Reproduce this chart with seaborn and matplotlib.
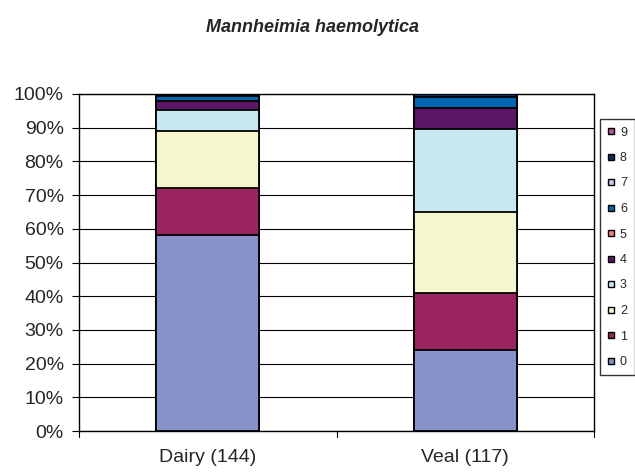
import numpy as np
import pandas as pd
import matplotlib
matplotlib.use('Agg')
import matplotlib.pyplot as plt
from matplotlib.lines import Line2D
import seaborn as sns

# percentage of isolates per class (0-9)
categories = ['Dairy (144)', 'Veal (117)']
classes = ['0', '1', '2', '3', '4', '5', '6', '7', '8', '9']
dairy = [58.3, 13.9, 16.7, 6.3, 2.8, 0.0, 1.3, 0.0, 0.7, 0.0]
veal = [23.9, 17.1, 23.9, 24.8, 6.0, 0.0, 3.4, 0.0, 0.9, 0.0]
colors = ['#8891C8', '#992460', '#F6F6CE', '#C7E8F1', '#5B1765',
          '#F08274', '#0066B2', '#C9C9E9', '#0A2F5E', '#B5559A']

sns.set_style('white')
plt.rcParams['font.family'] = ['Liberation Sans', 'DejaVu Sans']

df = pd.DataFrame({'category': categories})
vals = np.array([dairy, veal])
cum = np.cumsum(vals, axis=1)

fig = plt.figure(figsize=(6.35, 4.73), dpi=100)
ax = fig.add_axes([79 / 635, 1 - 431 / 473, (594 - 79) / 635, (431 - 94) / 473])

# draw cumulative totals from the top class down so each one covers the next
for i in range(len(classes) - 1, -1, -1):
    df['cum'] = cum[:, i]
    sns.barplot(data=df, x='category', y='cum', color=colors[i], width=0.4,
                saturation=1, edgecolor='black', linewidth=1.3, ax=ax,
                zorder=3)

ax.set_xlim(-0.5, 1.5)
ax.set_ylim(0, 100)
ax.set_yticks(np.arange(0, 101, 10))
ax.set_yticklabels([f'{v}%' for v in range(0, 101, 10)], fontsize=14)
ax.yaxis.grid(True, color='black', linewidth=0.8, zorder=0)
ax.set_axisbelow(True)
ax.set_xlabel('')
ax.set_ylabel('')
ax.tick_params(axis='x', length=0, labelsize=14, pad=13)
ax.tick_params(axis='y', left=True, length=5, width=0.8, color='black', pad=6)
for s in ax.spines.values():
    s.set_color('black')
    s.set_linewidth(1.0)
# category boundary ticks on the x axis
for xb in [-0.5, 0.5, 1.5]:
    ax.plot([xb, xb], [0, -1.8], color='black', linewidth=0.8, clip_on=False)

fig.text(313 / 635, 1 - 28 / 473, 'Mannheimia haemolytica', ha='center',
         va='center', fontsize=13, fontweight='bold', fontstyle='italic')

handles = [Line2D([], [], linestyle='none', marker='s', markersize=5,
                  markerfacecolor=colors[i], markeredgecolor='black',
                  markeredgewidth=1.0) for i in range(len(classes))][::-1]
fig.legend(handles, classes[::-1], loc='upper left',
           bbox_to_anchor=(600 / 635, 1 - 119 / 473), frameon=True,
           fancybox=False, edgecolor='black', fontsize=9, labelspacing=1.08,
           handlelength=0.6, handletextpad=0.4, borderpad=0.6,
           borderaxespad=0)

fig.savefig('out.png', dpi=100)
